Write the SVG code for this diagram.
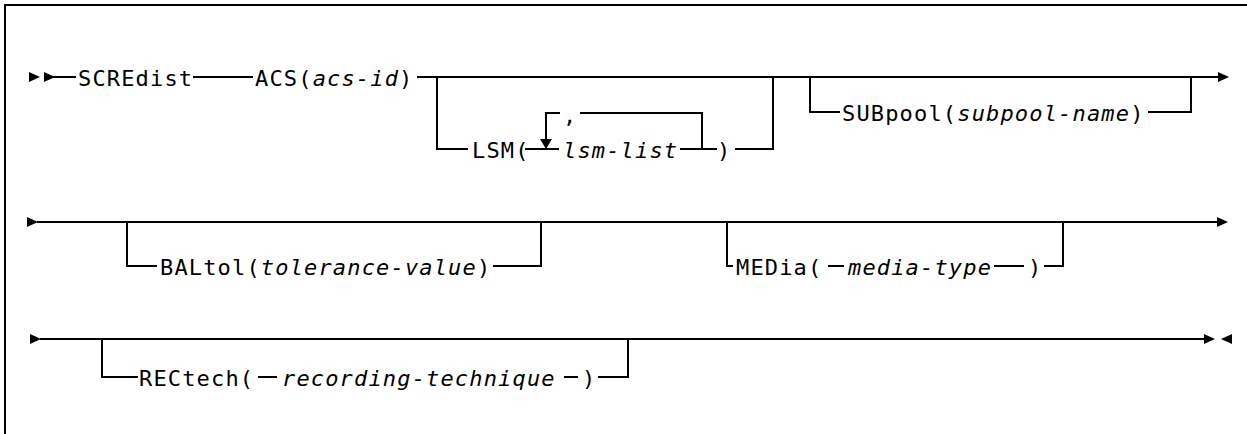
<svg xmlns="http://www.w3.org/2000/svg" xmlns:xlink="http://www.w3.org/1999/xlink" width="1247" height="434" viewBox="0 0 1247 434">
<defs>
<style>
.t{font-family:"DejaVu Sans Mono","Liberation Mono",monospace;font-size:22px;letter-spacing:1.16px;fill:#000}
.i{font-style:italic}
.c{fill:none;stroke:#000;stroke-width:2}
.fr{fill:none;stroke:#000;stroke-width:2}
</style>
<path id="ar" d="M0,-5 L11,0 L0,5 Z" fill="#000"/>
<path id="ad" d="M-6,-10 L6,-10 L0,0 Z" fill="#000"/>
</defs>
<rect width="1247" height="434" fill="#fff"/>
<path class="fr" d="M5,434 V5 H1247"/>
<g id="connectors">
<!-- row 1 -->
<use xlink:href="#ar" href="#ar" x="29" y="77"/>
<use xlink:href="#ar" href="#ar" x="44" y="77"/>
<path class="c" d="M52,77 H76"/>
<path class="c" d="M193,77 H253"/>
<path class="c" d="M417,77 H1219"/>
<use xlink:href="#ar" href="#ar" x="1218" y="77"/>
<path class="c" d="M437,76 V149 H468"/>
<path class="c" d="M525,149 H559"/>
<path class="c" d="M680,149 H717"/>
<path class="c" d="M702,149 V113 H580"/>
<path class="c" d="M560,113 H546 V140"/>
<use xlink:href="#ad" href="#ad" x="546" y="149"/>
<path class="c" d="M735,149 H773 V76"/>
<path class="c" d="M810,76 V112 H840"/>
<path class="c" d="M1148,112 H1191 V76"/>
<!-- row 2 -->
<use xlink:href="#ar" href="#ar" x="27" y="222"/>
<path class="c" d="M37,222 H1217"/>
<use xlink:href="#ar" href="#ar" x="1217" y="222"/>
<path class="c" d="M127,221 V266 H157"/>
<path class="c" d="M493,266 H541 V221"/>
<path class="c" d="M727,221 V266 H733"/>
<path class="c" d="M828,266 H844"/>
<path class="c" d="M994,266 H1024"/>
<path class="c" d="M1044,266 H1063 V221"/>
<!-- row 3 -->
<use xlink:href="#ar" href="#ar" x="30" y="339"/>
<path class="c" d="M40,339 H1205"/>
<use xlink:href="#ar" href="#ar" x="1204" y="339"/>
<path d="M1232,334 L1221,339 L1232,344 Z" fill="#000"/>
<path class="c" d="M102,338 V377 H138"/>
<path class="c" d="M258,377 H277"/>
<path class="c" d="M564,377 H578"/>
<path class="c" d="M598,377 H628 V338"/>
</g>
<g id="n-scredist"><text class="t" x="78" y="86">SCREdist</text></g>
<g id="n-acs"><text class="t" x="255" y="86">ACS(<tspan class="i">acs-id</tspan>)</text></g>
<g id="n-lsm"><text class="t" x="472" y="158">LSM(</text><text class="t i" x="563" y="158">lsm-list</text><text class="t" x="717" y="158">)</text></g>
<g id="n-comma"><text class="t" x="563" y="123">,</text></g>
<g id="n-subpool"><text class="t" x="842" y="121">SUBpool(<tspan class="i">subpool-name</tspan>)</text></g>
<g id="n-baltol"><text class="t" x="160" y="275">BALtol(<tspan class="i">tolerance-value</tspan>)</text></g>
<g id="n-media"><text class="t" x="736" y="275">MEDia(</text><text class="t i" x="848" y="275">media-type</text><text class="t" x="1028" y="275">)</text></g>
<g id="n-rectech"><text class="t" x="139" y="386">RECtech(</text><text class="t i" x="282" y="386">recording-technique</text><text class="t" x="582" y="386">)</text></g>
</svg>
